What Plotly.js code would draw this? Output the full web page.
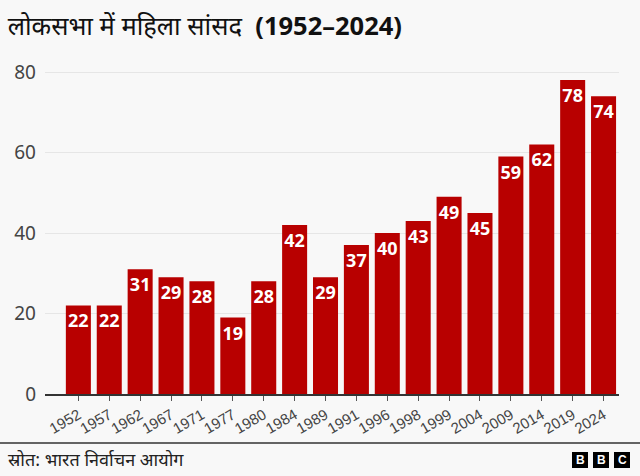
<!DOCTYPE html>
<html>
<head>
<meta charset="utf-8">
<script src="https://cdn.plot.ly/plotly-3.0.1.min.js"></script>
<style>
  html, body { margin: 0; padding: 0; background: #f8f8f8; }
  #chart { width: 640px; height: 476px; }
</style>
</head>
<body>
<div id="chart"></div>
<script>
// चुनाव वर्ष और लोकसभा में महिला सांसदों की संख्या
let years = ['1952', '1957', '1962', '1967', '1971', '1977', '1980', '1984', '1989',
             '1991', '1996', '1998', '1999', '2004', '2009', '2014', '2019', '2024']
let women = [22, 22, 31, 29, 28, 19, 28, 42, 29, 37, 40, 43, 49, 45, 59, 62, 78, 74]
let yTicks = [0, 20, 40, 60, 80]

let red = '#b80000'

let bars = {
  x: years,
  y: women,
  type: 'bar',
  marker: {color: red, line: {width: 0}},
  text: women.map(String),
  textposition: 'inside',
  insidetextanchor: 'end',
  constraintext: 'none',
  textangle: 0,
  textfont: {family: 'Noto Sans', size: 18, color: '#ffffff', weight: 'bold'},
  hoverinfo: 'x+y'
}

// BBC logo blocks
let logoX = [572, 593, 614]
let logoLetters = ['B', 'B', 'C']
let shapes = [
  {type: 'line', xref: 'paper', yref: 'paper',
   x0: -45 / 574, x1: 595 / 574, y0: -49 / 324, y1: -49 / 324,
   line: {color: '#333333', width: 1.5}}
]
let annotations = [
  {text: 'स्रोत: भारत निर्वाचन आयोग', xref: 'paper', yref: 'paper',
   x: -39 / 574, y: -65 / 324, xanchor: 'left', yanchor: 'middle', showarrow: false,
   font: {family: 'Noto Sans', size: 18, color: '#222222'}}
]
logoX.forEach((lx, i) => {
  let px = lx - 45
  shapes.push({type: 'rect', xref: 'paper', yref: 'paper',
    x0: px / 574, x1: (px + 16) / 574, y0: -74 / 324, y1: -58 / 324,
    fillcolor: '#000000', line: {width: 0}})
  annotations.push({text: '<b>' + logoLetters[i] + '</b>', xref: 'paper', yref: 'paper',
    x: (px + 8) / 574, y: -66 / 324, xanchor: 'center', yanchor: 'middle', showarrow: false,
    font: {family: 'Liberation Sans', size: 12, color: '#ffffff'}})
})

let layout = {
  width: 640,
  height: 476,
  margin: {l: 45, r: 21, t: 70, b: 82},
  paper_bgcolor: '#f8f8f8',
  plot_bgcolor: '#f8f8f8',
  showlegend: false,
  bargap: 0.19,
  font: {family: 'Noto Sans', color: '#222222'},
  title: {
    text: 'लोकसभा में महिला सांसद  <b>(1952–2024)</b>',
    x: 0.012, xanchor: 'left', y: 0.945, yanchor: 'middle',
    font: {family: 'Noto Sans', size: 25.5, color: '#111111'}
  },
  xaxis: {
    type: 'category',
    range: [-1.08, 17.5],
    showgrid: false,
    showline: true,
    linecolor: '#333333',
    linewidth: 1.5,
    ticks: 'outside',
    ticklen: 5,
    tickcolor: '#555555',
    tickangle: -30,
    tickfont: {family: 'Liberation Sans', size: 15, color: '#444444'},
    fixedrange: true
  },
  yaxis: {
    range: [0, 80.5],
    tickvals: yTicks,
    showline: false,
    zeroline: false,
    gridcolor: '#e6e6e6',
    gridwidth: 1,
    ticklabelstandoff: 8,
    tickfont: {family: 'Noto Sans', size: 19, color: '#444444'},
    fixedrange: true
  },
  shapes: shapes,
  annotations: annotations
}

Plotly.newPlot('chart', [bars], layout, {displayModeBar: false, staticPlot: true})
</script>
</body>
</html>
